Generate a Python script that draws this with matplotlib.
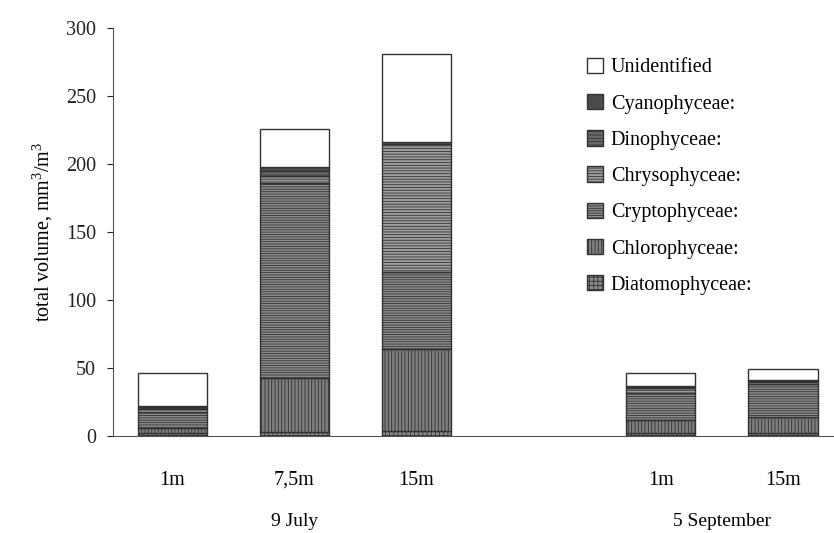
import matplotlib
matplotlib.use('Agg')
import matplotlib.pyplot as plt
from matplotlib.patches import Patch

plt.rcParams['font.family'] = ['Liberation Serif', 'DejaVu Serif']
plt.rcParams['mathtext.fontset'] = 'custom'
plt.rcParams['mathtext.rm'] = 'Liberation Serif'
plt.rcParams['hatch.linewidth'] = 0.6

# data
bar_labels = ['1m', '7,5m', '15m', '1m', '15m']
bar_pos = [0, 1, 2, 4, 5]
groups = ['9 July', '5 September']
group_pos = [1, 4.5]

diatom = [2, 3, 4, 2, 2]
chloro = [4, 40, 60, 10, 12]
crypto = [12, 143, 57, 20, 24]
chryso = [2, 5, 94, 3, 2]
dino = [1, 4, 1, 1, 0.5]
cyano = [1, 3, 0, 1, 1]
unident = [24, 28, 65, 9, 8]

layers = [
    ('Diatomophyceae:', diatom, '#8a8a8a', '++++'),
    ('Chlorophyceae:', chloro, '#7e7e7e', '|||||'),
    ('Cryptophyceae:', crypto, '#8c8c8c', '-------'),
    ('Chrysophyceae:', chryso, '#9c9c9c', '------'),
    ('Dinophyceae:', dino, '#6a6a6a', '-----'),
    ('Cyanophyceae:', cyano, '#4a4a4a', ''),
    ('Unidentified', unident, 'white', ''),
]

fig = plt.figure(figsize=(8.34, 5.33), dpi=100)
ax = fig.add_axes([0.135, 0.182, 0.865, 0.765])

bottom = [0] * len(bar_pos)
handles = []
for name, vals, col, hatch in layers:
    ax.bar(bar_pos, vals, width=0.57, bottom=bottom, color=col,
           edgecolor='#333333', linewidth=1.0, hatch=hatch)
    bottom = [b + v for b, v in zip(bottom, vals)]
    handles.append(Patch(facecolor=col, edgecolor='#333333', hatch=hatch, label=name))

ax.set_ylim(0, 300)
ax.set_xlim(-0.49, 5.42)
ax.set_yticks(range(0, 301, 50))
ax.set_xticks(bar_pos)
ax.set_xticklabels(bar_labels)
ax.tick_params(axis='x', length=0, pad=25, labelsize=14.5)
ax.tick_params(axis='y', length=4, labelsize=14.5, colors='#222222', pad=8)
for s in ['top', 'right']:
    ax.spines[s].set_visible(False)
ax.spines['left'].set_color('#555555')
ax.spines['bottom'].set_color('#555555')
ax.set_ylabel('total volume, mm$^3$/m$^3$', fontsize=14.5, labelpad=8)

for g, p in zip(groups, group_pos):
    ax.text(p, -0.21, g, transform=ax.get_xaxis_transform(), ha='center',
            va='center', fontsize=14)

leg = ax.legend(handles[::-1], [h.get_label() for h in handles[::-1]],
                loc='upper left', bbox_to_anchor=(0.632, 0.972), frameon=False,
                fontsize=14.5, handlelength=0.8, handleheight=0.8,
                handletextpad=0.4, labelspacing=0.82)

fig.savefig('out.png', dpi=100)
